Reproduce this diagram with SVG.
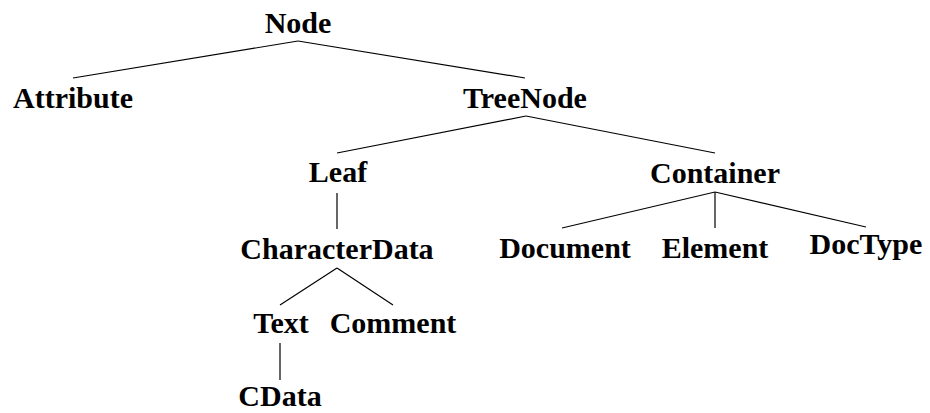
<svg xmlns="http://www.w3.org/2000/svg" width="930" height="413" viewBox="0 0 930 413">
  <style>
    .lbl { font-family: "Liberation Serif", "DejaVu Serif", serif; font-weight: bold; font-size: 30px; fill: #000; text-anchor: middle; }
    .edge { stroke: #000; stroke-width: 1.2; fill: none; }
  </style>
  <rect width="930" height="413" fill="#fff"/>

  <!-- tree edges -->
  <g id="connectors">
    <line class="edge" x1="298" y1="41" x2="73" y2="78"/>
    <line class="edge" x1="298" y1="41" x2="525" y2="78"/>
    <line class="edge" x1="526" y1="116" x2="337" y2="153"/>
    <line class="edge" x1="526" y1="116" x2="715" y2="153"/>
    <line class="edge" x1="337" y1="193" x2="337" y2="229"/>
    <line class="edge" x1="715" y1="192" x2="562" y2="228"/>
    <line class="edge" x1="715" y1="192" x2="715" y2="228"/>
    <line class="edge" x1="715" y1="192" x2="866" y2="227"/>
    <line class="edge" x1="337" y1="268" x2="280" y2="305"/>
    <line class="edge" x1="337" y1="268" x2="393" y2="305"/>
    <line class="edge" x1="280" y1="343" x2="280" y2="380"/>
  </g>

  <!-- class nodes -->
  <g id="node-Node"><text class="lbl" x="298" y="33">Node</text></g>
  <g id="node-Attribute"><text class="lbl" x="73" y="108">Attribute</text></g>
  <g id="node-TreeNode"><text class="lbl" x="525" y="108">TreeNode</text></g>
  <g id="node-Leaf"><text class="lbl" x="338" y="182">Leaf</text></g>
  <g id="node-Container"><text class="lbl" x="715" y="183">Container</text></g>
  <g id="node-CharacterData"><text class="lbl" x="337" y="259">CharacterData</text></g>
  <g id="node-Document"><text class="lbl" x="565" y="258">Document</text></g>
  <g id="node-Element"><text class="lbl" x="715" y="258">Element</text></g>
  <g id="node-DocType"><text class="lbl" x="866" y="254">DocType</text></g>
  <g id="node-Text"><text class="lbl" x="281" y="333">Text</text></g>
  <g id="node-Comment"><text class="lbl" x="393" y="333">Comment</text></g>
  <g id="node-CData"><text class="lbl" x="280" y="406">CData</text></g>
</svg>
